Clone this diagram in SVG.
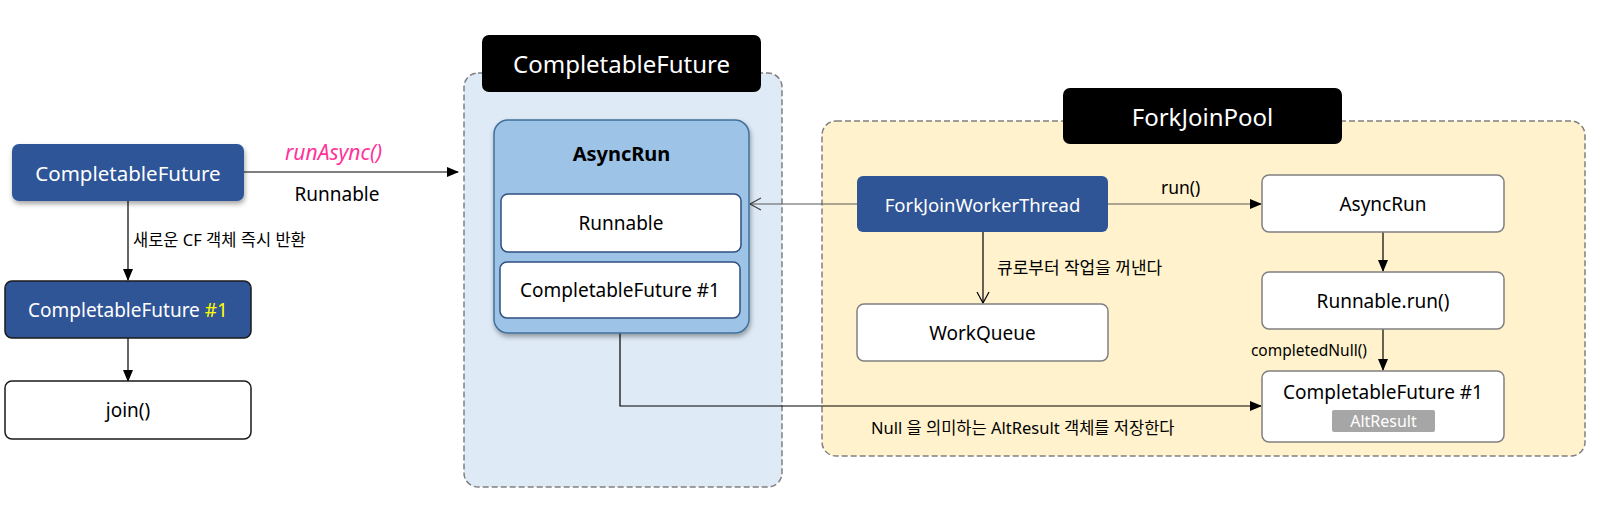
<svg xmlns="http://www.w3.org/2000/svg" width="1612" height="526" viewBox="0 0 1612 526">
<defs>
<style>
text{font-family:"Noto Sans","Noto Sans CJK KR",sans-serif;fill:#000;}
.c{text-anchor:middle;dominant-baseline:central;}
.w{fill:#fff;}
.blue{fill:#2F5597;}
.wbox{fill:#fff;stroke:#808080;stroke-width:1.5;}
.cont{stroke:#808080;stroke-width:1.5;stroke-dasharray:6 3;}
.ln{fill:none;stroke:#000;stroke-width:1.2;}
.lg{fill:none;stroke:#595959;stroke-width:1.2;}
</style>
<marker id="af" markerWidth="12" markerHeight="10" refX="11" refY="5" orient="auto" markerUnits="userSpaceOnUse">
<path d="M0,0 L12,5 L0,10 z" fill="#000"/>
</marker>
<marker id="ao" markerWidth="14" markerHeight="14" refX="12" refY="7" orient="auto" markerUnits="userSpaceOnUse">
<path d="M1,1 L12,7 L1,13" fill="none" stroke="#000" stroke-width="1.2"/>
</marker>
<marker id="aog" markerWidth="14" markerHeight="14" refX="12" refY="7" orient="auto" markerUnits="userSpaceOnUse">
<path d="M1,1 L12,7 L1,13" fill="none" stroke="#404040" stroke-width="1.2"/>
</marker>
<filter id="sh" x="-10%" y="-10%" width="125%" height="135%">
<feDropShadow dx="1" dy="3" stdDeviation="2.5" flood-color="#000" flood-opacity="0.35"/>
</filter>
</defs>
<rect width="1612" height="526" fill="#fff"/>

<g id="cf-container">
<rect x="464" y="73" width="318" height="414" rx="14" fill="#DEEAF6" class="cont"/>
<rect x="482" y="35" width="279" height="57" rx="7" fill="#000"/>
<text x="621.5" y="63" class="c w" font-size="24">CompletableFuture</text>
</g>

<g id="fjp-container">
<rect x="822" y="121" width="763" height="335" rx="14" fill="#FFF2CC" class="cont"/>
<rect x="1063" y="88" width="279" height="56" rx="7" fill="#000"/>
<text x="1202.5" y="116" class="c w" font-size="24">ForkJoinPool</text>
</g>

<g id="connectors">
<line x1="244" y1="172" x2="458" y2="172" class="ln" marker-end="url(#af)"/>
<line x1="128" y1="201" x2="128" y2="280" class="ln" marker-end="url(#af)"/>
<line x1="128" y1="338" x2="128" y2="381" class="ln" marker-end="url(#af)"/>
<line x1="857" y1="204" x2="750" y2="204" class="lg" marker-end="url(#aog)"/>
<line x1="1108" y1="204" x2="1261" y2="204" class="lg" marker-end="url(#af)"/>
<line x1="983" y1="232" x2="983" y2="303" class="ln" marker-end="url(#ao)"/>
<line x1="1383" y1="232" x2="1383" y2="271" class="ln" marker-end="url(#af)"/>
<line x1="1383" y1="329" x2="1383" y2="370" class="ln" marker-end="url(#af)"/>
<polyline points="620,318 620,406 1261,406" class="ln" marker-end="url(#af)"/>
<text x="285" y="152" font-size="21" font-style="italic" fill="#FF3399" style="fill:#FF3399;dominant-baseline:central">runAsync()</text>
<text x="337" y="194" class="c" font-size="19">Runnable</text>
<text x="133" y="239" font-size="16.5" dominant-baseline="central">새로운 CF 객체 즉시 반환</text>
<text x="1161" y="187" font-size="17.5" dominant-baseline="central">run()</text>
<text x="997" y="267" font-size="17" dominant-baseline="central">큐로부터 작업을 꺼낸다</text>
<text x="1367" y="350" font-size="15.5" text-anchor="end" dominant-baseline="central">completedNull()</text>
<text x="871" y="427" font-size="16.5" dominant-baseline="central">Null 을 의미하는 AltResult 객체를 저장한다</text>
</g>

<g id="left-cf">
<rect x="12" y="144" width="232" height="57" rx="7" class="blue" filter="url(#sh)"/>
<text x="128" y="172.5" class="c w" font-size="20.5">CompletableFuture</text>
</g>
<g id="left-cf1">
<rect x="5" y="281" width="246" height="57" rx="7" class="blue" stroke="#1a1a1a" stroke-width="1.5"/>
<text x="128" y="309.5" class="c w" font-size="19">CompletableFuture <tspan fill="#FFFF00" style="fill:#FFFF00">#1</tspan></text>
</g>
<g id="left-join">
<rect x="5" y="381" width="246" height="58" rx="7" fill="#fff" stroke="#1a1a1a" stroke-width="1.5"/>
<text x="128" y="410" class="c" font-size="19">join()</text>
</g>

<g id="mid-asyncrun">
<rect x="494" y="120" width="255" height="213" rx="14" fill="#9DC3E6" stroke="#41719C" stroke-width="1.5" filter="url(#sh)"/>
<text x="621.5" y="153" class="c" font-size="20" font-weight="bold">AsyncRun</text>
</g>
<g id="mid-runnable">
<rect x="501" y="194" width="240" height="58" rx="7" fill="#fff" stroke="#2F4F80" stroke-width="1.5"/>
<text x="621" y="223" class="c" font-size="19">Runnable</text>
</g>
<g id="mid-cf1">
<rect x="500" y="262" width="240" height="56" rx="7" fill="#fff" stroke="#2F4F80" stroke-width="1.5"/>
<text x="620" y="290" class="c" font-size="19">CompletableFuture #1</text>
</g>

<g id="fjwt">
<rect x="857" y="176" width="251" height="56" rx="6" class="blue"/>
<text x="982.5" y="204" class="c w" font-size="18.5">ForkJoinWorkerThread</text>
</g>
<g id="workqueue">
<rect x="857" y="304" width="251" height="57" rx="7" class="wbox"/>
<text x="982.5" y="332.5" class="c" font-size="19">WorkQueue</text>
</g>
<g id="r-asyncrun">
<rect x="1262" y="175" width="242" height="57" rx="7" class="wbox"/>
<text x="1383" y="203.5" class="c" font-size="19">AsyncRun</text>
</g>
<g id="r-runnable-run">
<rect x="1262" y="272" width="242" height="57" rx="7" class="wbox"/>
<text x="1383" y="300.5" class="c" font-size="19">Runnable.run()</text>
</g>
<g id="r-cf1">
<rect x="1262" y="371" width="242" height="71" rx="7" class="wbox"/>
<text x="1383" y="392" class="c" font-size="19">CompletableFuture #1</text>
<rect x="1332" y="410" width="103" height="22" rx="2" fill="#A6A6A6"/>
<text x="1383.5" y="421" class="c w" font-size="16">AltResult</text>
</g>
</svg>
